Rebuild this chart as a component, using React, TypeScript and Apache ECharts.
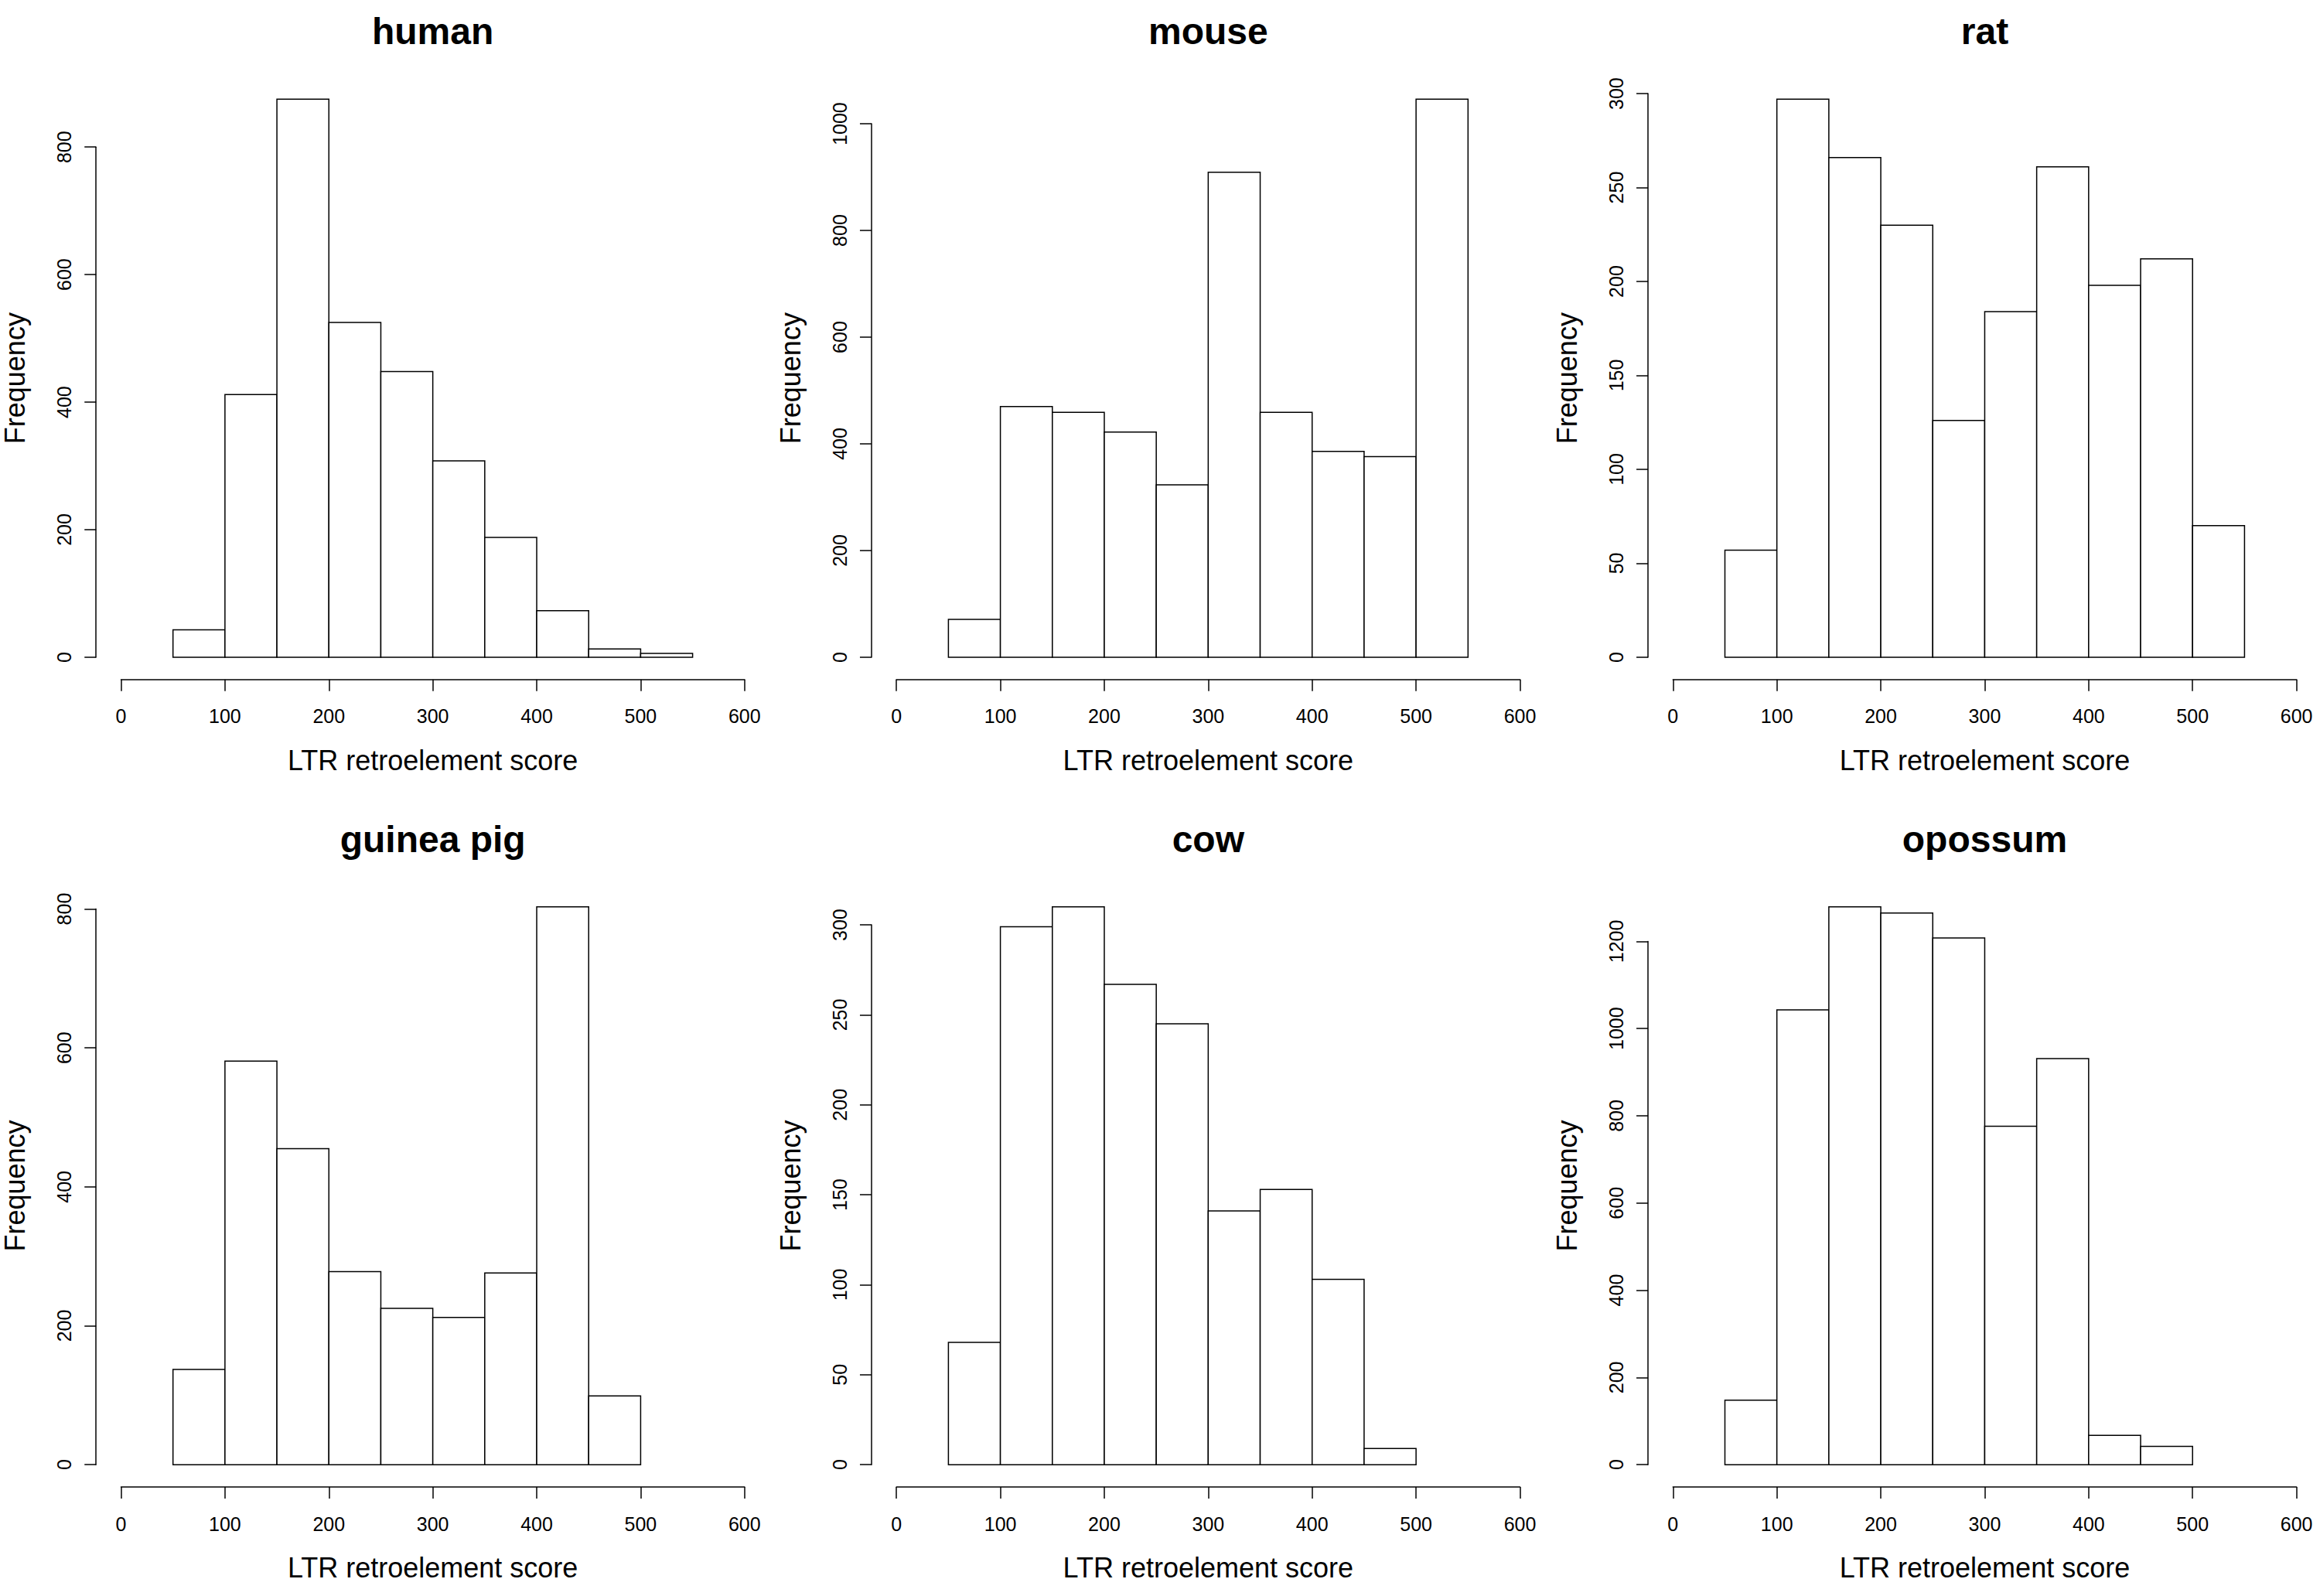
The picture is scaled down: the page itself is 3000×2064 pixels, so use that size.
import React, { useEffect, useRef } from "react";
import * as echarts from "echarts";

// ---------------- data ----------------
const panelTitles = ["human", "mouse", "rat", "guinea pig", "cow", "opossum"];
const binStarts = [50, 100, 150, 200, 250, 300, 350, 400, 450, 500];
const binWidth = 50;

const humanCounts = [43, 412, 875, 525, 448, 308, 188, 73, 13, 6];
const mouseCounts = [71, 470, 459, 422, 323, 909, 459, 386, 376, 1046];
const ratCounts = [57, 297, 266, 230, 126, 184, 261, 198, 212, 70];
const guineaPigCounts = [137, 581, 455, 278, 225, 212, 276, 803, 99];
const cowCounts = [68, 299, 310, 267, 245, 141, 153, 103, 9];
const opossumCounts = [148, 1043, 1279, 1265, 1208, 776, 931, 67, 42];

const allCounts = [humanCounts, mouseCounts, ratCounts, guineaPigCounts, cowCounts, opossumCounts];
const yTickSteps = [200, 200, 50, 200, 50, 200];
const xMin = 0;
const xMax = 600;
const xStep = 100;
const xLabel = "LTR retroelement score";
const yLabel = "Frequency";

// ---------------- layout ----------------
const W = 3000;
const H = 2064;
const colZero = [156.5, 1159.2, 2163.3];
const plotWidth = 806.3;
const rowTop = [99.5, 1144];
const rowBottom = [878.8, 1923];
const FONT = '"Liberation Sans", Arial, Helvetica, sans-serif';
const LW = 1.5;

function buildOption() {
  const grids: any[] = [];
  const xAxes: any[] = [];
  const yAxes: any[] = [];
  const series: any[] = [];
  allCounts.forEach((counts, i) => {
    const col = i % 3;
    const row = Math.floor(i / 3);
    const ymax = Math.max(...counts);
    const regionH = rowBottom[row] - rowTop[row];
    const ppu = regionH / (1.08 * ymax);
    const y0 = rowBottom[row] - 0.04 * ymax * ppu;
    const step = yTickSteps[i];
    const topTick = Math.floor((1.04 * ymax) / step) * step;
    const gridTop = y0 - topTick * ppu;
    grids.push({
      left: colZero[col],
      top: gridTop,
      width: plotWidth,
      height: y0 - gridTop,
      outerBoundsMode: "none",
      containLabel: false,
    });
    xAxes.push({
      type: "value",
      gridIndex: i,
      min: xMin,
      max: xMax,
      interval: xStep,
      offset: rowBottom[row] - y0,
      axisLine: { show: true, onZero: false, lineStyle: { color: "#000", width: LW } },
      axisTick: { show: true, length: 15, lineStyle: { color: "#000", width: LW } },
      axisLabel: {
        show: true,
        color: "#000",
        fontSize: 25,
        fontFamily: FONT,
        margin: 35,
        formatter: (v: number) => String(v),
      },
      splitLine: { show: false },
      name: xLabel,
      nameLocation: "middle",
      nameGap: 86.7,
      nameTextStyle: { color: "#000", fontSize: 36, fontFamily: FONT },
    });
    yAxes.push({
      type: "value",
      gridIndex: i,
      min: 0,
      max: topTick,
      interval: step,
      offset: (0.04 * (xMax - xMin) * plotWidth) / (xMax - xMin),
      axisLine: { show: true, onZero: false, lineStyle: { color: "#000", width: LW } },
      axisTick: { show: true, length: 15, lineStyle: { color: "#000", width: LW } },
      axisLabel: {
        show: true,
        color: "#000",
        fontSize: 25,
        fontFamily: FONT,
        rotate: 90,
        margin: 28.5,
        formatter: (v: number) => String(v),
      },
      splitLine: { show: false },
    });
    series.push({
      type: "custom",
      xAxisIndex: i,
      yAxisIndex: i,
      clip: false,
      encode: { x: [0, 1], y: 2 },
      data: counts.map((c, k) => [binStarts[k], binStarts[k] + binWidth, c]),
      renderItem: (params: any, api: any) => {
        const tl = api.coord([api.value(0), api.value(2)]);
        const br = api.coord([api.value(1), 0]);
        return {
          type: "rect",
          shape: { x: tl[0], y: tl[1], width: br[0] - tl[0], height: br[1] - tl[1] },
          style: { fill: "#fff", stroke: "#000", lineWidth: LW },
        };
      },
    });
  });
  return {
    animation: false,
    backgroundColor: "#fff",
    grid: grids,
    xAxis: xAxes,
    yAxis: yAxes,
    series,
  };
}

export default function App() {
  const ref = useRef<HTMLDivElement>(null);
  useEffect(() => {
    const el = ref.current!;
    const chart = echarts.init(el, undefined, { renderer: "svg", width: W, height: H });
    chart.setOption(buildOption());
    const elements: any[] = [];
    allCounts.forEach((counts, i) => {
      const row = Math.floor(i / 3);
      const ymax = Math.max(...counts);
      const cx = chart.convertToPixel({ xAxisIndex: i }, (xMin + xMax) / 2) as number;
      const cy = chart.convertToPixel({ yAxisIndex: i }, ymax / 2) as number;
      const zeroX = chart.convertToPixel({ xAxisIndex: i }, xMin) as number;
      elements.push({
        type: "text",
        x: cx,
        y: rowTop[row] - 58.8,
        style: {
          text: panelTitles[i],
          fill: "#000",
          font: `bold 48px ${FONT}`,
          textAlign: "center",
          textVerticalAlign: "middle",
        },
      });
      elements.push({
        type: "text",
        x: zeroX - 32.25 - 104.8,
        y: cy,
        rotation: Math.PI / 2,
        style: {
          text: yLabel,
          fill: "#000",
          font: `36px ${FONT}`,
          textAlign: "center",
          textVerticalAlign: "middle",
        },
      });
    });
    chart.setOption({ graphic: { elements } });
    return () => chart.dispose();
  }, []);
  return (
    <div
      ref={ref}
      style={{ position: "absolute", left: 0, top: 0, width: W, height: H, background: "#fff" }}
    />
  );
}
